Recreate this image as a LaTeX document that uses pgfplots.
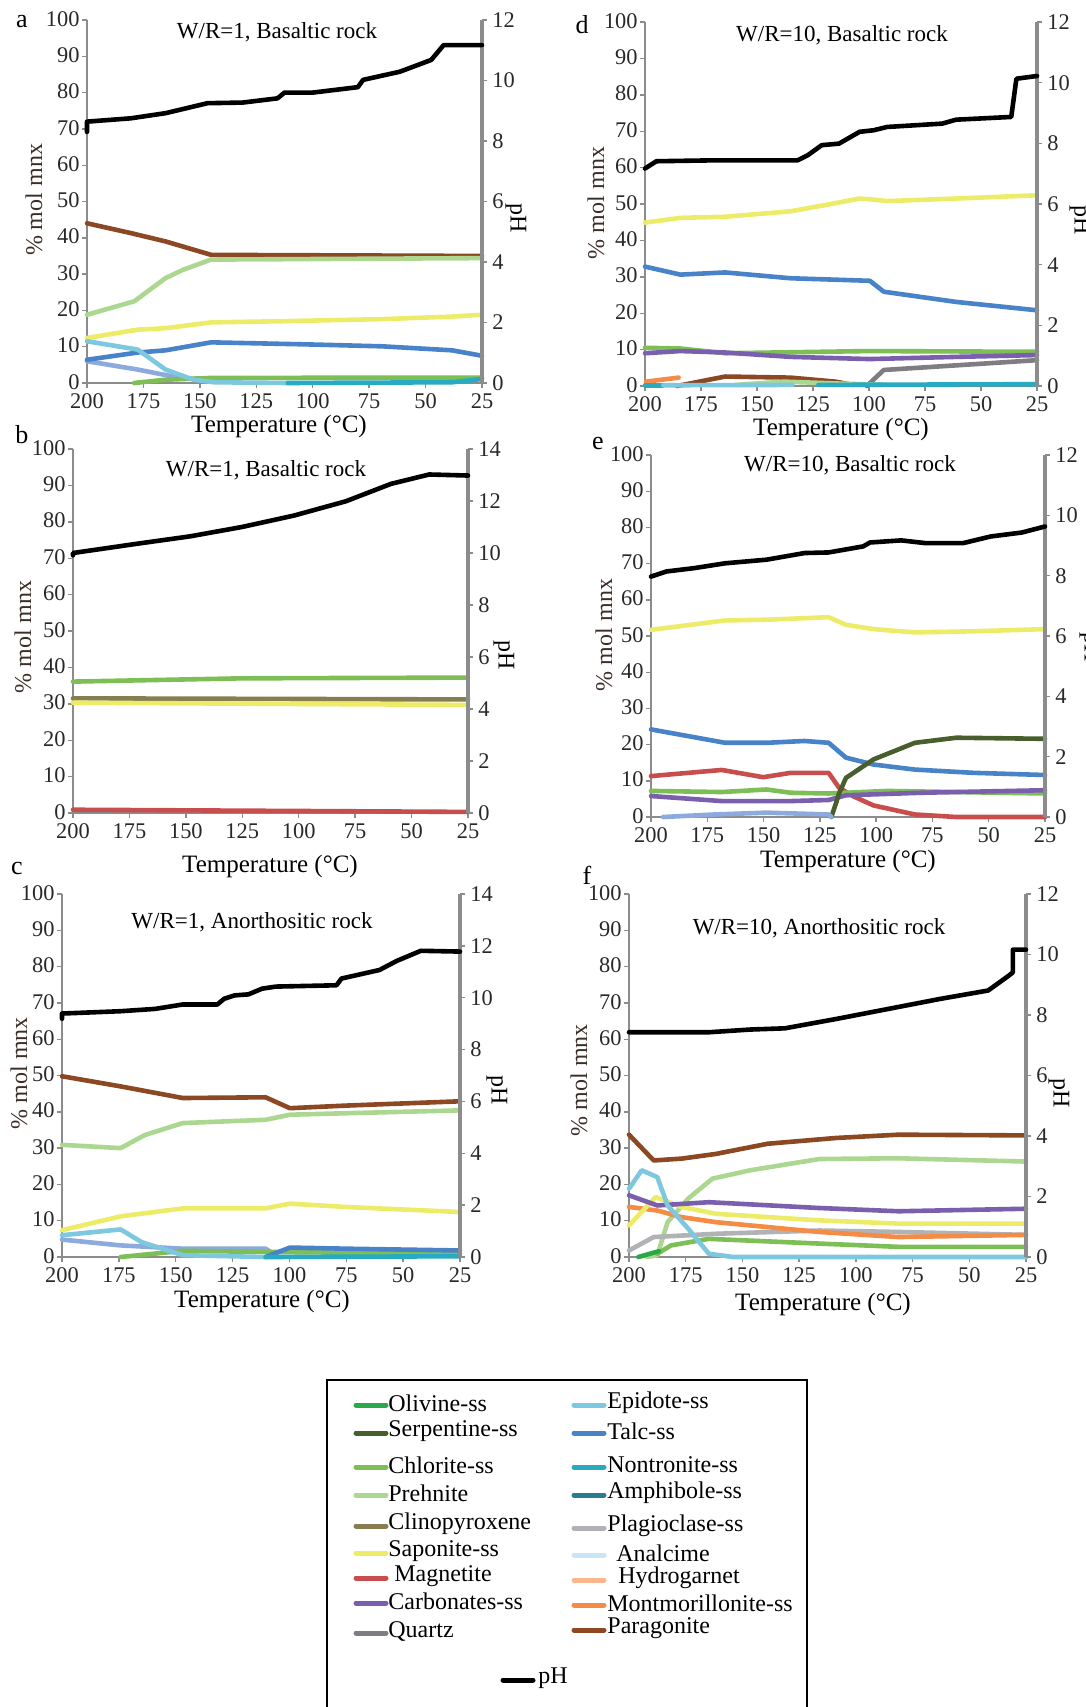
\documentclass[border=0pt]{standalone}
\usepackage{pgfplots}
\pgfplotsset{compat=1.18}
\usepackage{fontspec}
\setmainfont{Liberation Serif}
\usetikzlibrary{calc}

\definecolor{cOlivine}{RGB}{40,170,75}
\definecolor{cSerp}{RGB}{72,95,45}
\definecolor{cChlor}{RGB}{125,190,85}
\definecolor{cPreh}{RGB}{172,215,145}
\definecolor{cClino}{RGB}{135,125,80}
\definecolor{cSapo}{RGB}{236,236,105}
\definecolor{cMagn}{RGB}{200,78,78}
\definecolor{cCarb}{RGB}{122,95,175}
\definecolor{cQuartz}{RGB}{125,125,130}
\definecolor{cEpid}{RGB}{125,200,222}
\definecolor{cTalc}{RGB}{72,130,200}
\definecolor{cNont}{RGB}{40,170,195}
\definecolor{cAmph}{RGB}{40,125,140}
\definecolor{cPlag}{RGB}{176,178,182}
\definecolor{cAnal}{RGB}{200,230,245}
\definecolor{cHydro}{RGB}{250,182,140}
\definecolor{cMont}{RGB}{245,140,70}
\definecolor{cPara}{RGB}{140,72,35}
\definecolor{cPeri}{RGB}{140,170,222}
\definecolor{axgray}{RGB}{140,140,140}
\definecolor{tickc}{RGB}{40,40,40}
\definecolor{labc}{RGB}{60,45,40}

\pgfplotsset{
  ser/.style={line width=2.3pt, line join=round, line cap=round, no markers},
  leftax/.style={scale only axis, anchor=south west,
    xmin=25, xmax=200, x dir=reverse, ymin=0, ymax=100,
    axis x line*=bottom, axis y line*=left,
    xtick={25,50,...,200}, ytick={0,10,...,100},
    tick align=outside, major tick length=2.5pt, clip=false,
    x axis line style={draw=axgray, line width=1pt},
    y axis line style={draw=axgray, line width=0.8pt},
    tick style={draw=axgray, line width=0.7pt},
    tick label style={font=\fontsize{11.2}{11.2}\selectfont, text=tickc},
    xticklabel style={inner xsep=1pt, inner ysep=0.3pt, yshift=-2.2pt},
    yticklabel style={inner xsep=1pt, inner ysep=0.2pt, yshift=0.6pt},
    /pgf/number format/assume math mode=true},
  rightax/.style={scale only axis, anchor=south west,
    xmin=25, xmax=200, x dir=reverse, ymin=0,
    axis x line=none, axis y line*=right, xtick=\empty,
    tick align=outside, major tick length=2.5pt, clip=false,
    y axis line style={draw=axgray, line width=1.7pt},
    tick style={draw=axgray, line width=0.7pt},
    tick label style={font=\fontsize{11.2}{11.2}\selectfont, text=tickc},
    yticklabel style={inner xsep=2.5pt, inner ysep=0.2pt},
    /pgf/number format/assume math mode=true},
}

\newcommand{\ttl}[3]{\node[font=\fontsize{11.5}{11.5}\selectfont] at (#1,#2) {#3};}
\newcommand{\xlab}[2]{\node[font=\fontsize{12.5}{12.5}\selectfont] at (#1,#2) {Temperature (°C)};}
\newcommand{\ylab}[2]{\node[font=\fontsize{12}{12}\selectfont, text=labc, rotate=90] at (#1,#2) {\% mol mnx};}
\newcommand{\phlab}[2]{\node[font=\fontsize{12}{12}\selectfont, rotate=-90] at (#1,#2) {pH};}
\newcommand{\plet}[3]{\node[font=\fontsize{13}{13}\selectfont] at (#1,#2) {#3};}
\newcommand{\legent}[5]{\draw[line width=2.5pt, line cap=round, #4] (#1,#3) -- ++(15pt,0); \node[anchor=west, inner sep=0pt, font=\fontsize{12}{12}\selectfont] at ($(#2,#3)+(0,1pt)$) {#5};}

\begin{document}
\begin{tikzpicture}

% ---------------- Panel a ----------------
\begin{axis}[leftax, at={(43.5pt,-191.5pt)}, width=197.5pt, height=181.5pt]
\addplot[ser, cPara] coordinates {(200,44)(180.6,41.3)(165.2,39)(145,35.3)(25,35)};
\addplot[ser, cPreh] coordinates {(200,18.8)(179.1,22.5)(165.2,28.9)(157.4,31.2)(145,34)(25,34.4)};
\addplot[ser, cSapo] coordinates {(200,12.4)(177.5,14.7)(165.2,15.1)(145,16.7)(115.6,17)(69.1,17.6)(38.2,18.3)(25,18.8)};
\addplot[ser, cPeri] coordinates {(200,6)(177.5,3.7)(162,1.8)(145,0.5)(140,0.3)};
\addplot[ser, cTalc] coordinates {(200,6.4)(177.5,8.4)(165.2,9)(145,11.2)(100,10.6)(69.1,10.1)(38.2,9)(25,7.5)};
\addplot[ser, cChlor] coordinates {(179.1,0)(165.2,0.9)(145,1.4)(25,1.5)};
\addplot[ser, cEpid] coordinates {(200,11.5)(177.5,9.2)(165.2,3.7)(152.8,0.9)(143.5,0.2)(111,0)};
\addplot[ser, cNont] coordinates {(111,0)(38.2,0.2)(25,1.1)};
\end{axis}
\begin{axis}[rightax, at={(43.5pt,-191.5pt)}, width=197.5pt, height=181.5pt, ymax=12, ytick={0,2,...,12}]
\addplot[ser, black] coordinates {(200,8.3)(200,8.64)(180.6,8.75)(165.2,8.92)(146.6,9.25)(131.1,9.27)(115.6,9.41)(112.5,9.6)(100,9.6)(80,9.78)(77.7,10.02)(61.4,10.29)(47.5,10.68)(42,11.17)(25,11.17)};
\end{axis}

% ---------------- Panel d ----------------
\begin{axis}[leftax, at={(322.5pt,-193pt)}, width=196pt, height=182pt]
\addplot[ser, cSapo] coordinates {(200,44.9)(184.2,46.2)(164.2,46.5)(135,48)(119.6,49.7)(104.2,51.5)(98,51.2)(91.9,50.8)(61.1,51.5)(25,52.4)};
\addplot[ser, cTalc] coordinates {(200,32.8)(184.2,30.6)(164.2,31.2)(135,29.6)(99.6,28.9)(93.4,25.9)(61.1,23.1)(25,20.8)};
\addplot[ser, cChlor] coordinates {(200,10.5)(184.2,10.3)(164.2,9)(100,9.6)(25,9.4)};
\addplot[ser, cCarb] coordinates {(200,9)(184.2,9.6)(164.2,9.2)(135,8)(99.6,7.4)(61.1,8)(25,8.5)};
\addplot[ser, cQuartz] coordinates {(101,0)(93.4,4.4)(25,7.1)};
\addplot[ser, cMont] coordinates {(199.5,1.2)(185,2.3)};
\addplot[ser, cPara] coordinates {(185.7,0)(164.2,2.6)(135,2.3)(115,1.2)(107,0.3)};
\addplot[ser, cPreh] coordinates {(159.6,0.3)(138,1.2)(115,0.7)(91.9,0.3)};
\addplot[ser, cNont] coordinates {(200,0.2)(192,0.2)};
\addplot[ser, cNont] coordinates {(122.6,0.3)(25,0.5)};
\addplot[ser, cEpid] coordinates {(191.8,0.2)(134.2,0.3)};
\end{axis}
\begin{axis}[rightax, at={(322.5pt,-193pt)}, width=196pt, height=182pt, ymax=12, ytick={0,2,...,12}]
\addplot[ser, black] coordinates {(200,7.17)(194.9,7.41)(168.8,7.44)(131.9,7.44)(127.3,7.61)(121.1,7.94)(113.4,7.99)(104.2,8.38)(98,8.43)(91.9,8.54)(67.3,8.65)(61.1,8.78)(36.5,8.87)(34.2,10.13)(25,10.22)};
\end{axis}

% ---------------- Panel b ----------------
\begin{axis}[leftax, at={(36.5pt,-406.5pt)}, width=197.5pt, height=182pt]
\addplot[ser, cChlor] coordinates {(200,36.1)(125,37)(25,37.2)};
\addplot[ser, cClino] coordinates {(200,31.5)(25,31.2)};
\addplot[ser, cSapo] coordinates {(200,30.3)(25,29.7)};
\addplot[ser, cMagn] coordinates {(200,0.9)(25,0.3)};
\end{axis}
\begin{axis}[rightax, at={(36.5pt,-406.5pt)}, width=197.5pt, height=182pt, ymax=14, ytick={0,2,...,14}]
\addplot[ser, black] coordinates {(200,9.91)(200,10.0)(171.3,10.36)(148.2,10.64)(125.2,11.0)(102.1,11.44)(79.1,11.99)(59.1,12.66)(42.2,13.02)(25,12.98)};
\end{axis}

% ---------------- Panel e ----------------
\begin{axis}[leftax, at={(325.5pt,-408.5pt)}, width=197pt, height=181pt]
\addplot[ser, cSapo] coordinates {(200,51.7)(167.1,54.3)(148.7,54.5)(121.1,55.2)(113.4,53.1)(101.2,51.9)(82.8,51)(56.7,51.3)(25,51.9)};
\addplot[ser, cTalc] coordinates {(200,24.2)(167.1,20.5)(148.7,20.5)(131.8,21)(121.1,20.5)(113.4,16.4)(101.2,14.5)(82.8,13.1)(56.7,12.2)(25,11.6)};
\addplot[ser, cMagn] coordinates {(200,11.3)(168.6,13)(150.2,11)(137.9,12.2)(121.1,12.2)(116.5,8.1)(110.4,5.8)(101.2,3.2)(82.8,0.7)(64.4,0)(25,0)};
\addplot[ser, cChlor] coordinates {(200,7.2)(168.6,6.9)(148.7,7.6)(137.9,6.7)(121.1,6.5)(95,7.2)(25,6.5)};
\addplot[ser, cCarb] coordinates {(200,5.8)(168.6,4.4)(137.9,4.4)(121.1,4.7)(113.4,6)(79.7,6.7)(25,7.4)};
\addplot[ser, cSerp] coordinates {(119.9,0)(118,3.5)(116.5,6.5)(113.4,10.8)(101.2,15.9)(82.8,20.5)(64.4,21.9)(25,21.6)};
\addplot[ser, cPeri] coordinates {(194.6,0)(171.7,0.7)(148.7,1.2)(121.1,0.7)(119.9,0)};
\end{axis}
\begin{axis}[rightax, at={(325.5pt,-408.5pt)}, width=197pt, height=181pt, ymax=12, ytick={0,2,...,12}]
\addplot[ser, black] coordinates {(200,7.97)(193.1,8.14)(180.8,8.25)(167.1,8.41)(148.7,8.53)(131.8,8.75)(121.1,8.77)(105.8,8.97)(102.7,9.1)(88.9,9.17)(78.2,9.08)(61.3,9.08)(49.1,9.3)(35.3,9.43)(25,9.63)};
\end{axis}

% ---------------- Panel c ----------------
\begin{axis}[leftax, at={(31pt,-628.5pt)}, width=199pt, height=181.5pt]
\addplot[ser, cPara] coordinates {(200,49.8)(174.2,47)(146.9,43.8)(110.5,44)(99.8,41)(75.6,41.7)(25,42.9)};
\addplot[ser, cPreh] coordinates {(200,30.9)(174.2,30)(163.6,33.6)(146.9,36.9)(110.5,37.8)(99.8,39.2)(75.6,39.6)(25,40.4)};
\addplot[ser, cSapo] coordinates {(200,7.4)(174.2,11.2)(146.9,13.4)(110.5,13.4)(99.8,14.7)(75.6,13.8)(25,12.4)};
\addplot[ser, cPeri] coordinates {(200,4.8)(174.2,3.2)(146.9,2.3)(110.5,2.3)(106,0.5)};
\addplot[ser, cChlor] coordinates {(174.2,0)(146.9,1.7)(110.5,1.4)(25,0.9)};
\addplot[ser, cTalc] coordinates {(110.5,0)(99.8,2.6)(75.6,2.3)(25,1.8)};
\addplot[ser, cEpid] coordinates {(200,6)(174.2,7.6)(165,4.1)(146.9,0.5)(110.5,0)};
\addplot[ser, cNont] coordinates {(110.5,0)(25,0.2)};
\end{axis}
\begin{axis}[rightax, at={(31pt,-628.5pt)}, width=199pt, height=181.5pt, ymax=14, ytick={0,2,...,14}]
\addplot[ser, black] coordinates {(200,9.19)(200,9.39)(174.2,9.48)(159,9.57)(146.9,9.74)(131.7,9.74)(128.7,9.96)(124.1,10.09)(118,10.13)(112,10.35)(105.9,10.43)(79.3,10.48)(77.1,10.74)(60.4,11.07)(52.8,11.42)(42.2,11.81)(25,11.78)};
\end{axis}

% ---------------- Panel f ----------------
\begin{axis}[leftax, at={(314.5pt,-628.5pt)}, width=198.5pt, height=181.5pt]
\addplot[ser, cPara] coordinates {(200,33.7)(189.1,26.6)(176.9,27.1)(161.7,28.4)(138.9,31.2)(108.6,32.8)(81.2,33.7)(25,33.5)};
\addplot[ser, cPreh] coordinates {(192.1,0)(187.5,0.5)(183,9.6)(173.9,16.1)(163.2,21.6)(146.5,23.9)(116.1,27)(81.2,27.2)(25,26.3)};
\addplot[ser, cPlag] coordinates {(200,1.8)(189.1,5.5)(161.7,6.4)(116.1,7.3)(81.2,6.9)(25,6.1)};
\addplot[ser, cChlor] coordinates {(187.5,0.9)(181.5,3.2)(164.8,5)(116.1,3.7)(81.2,2.8)(25,2.8)};
\addplot[ser, cOlivine] coordinates {(195.9,0)(186.8,1.6)};
\addplot[ser, cMont] coordinates {(200,13.8)(187.5,12.8)(176.9,11)(161.7,9.6)(116.1,6.9)(81.2,5.5)(25,6.1)};
\addplot[ser, cSapo] coordinates {(200,8.7)(188.3,16.5)(176.9,13.8)(161.7,11.9)(116.1,10.1)(81.2,9.2)(25,9.2)};
\addplot[ser, cCarb] coordinates {(200,17)(187.5,14.2)(164.8,15.1)(116.1,13.5)(81.2,12.6)(25,13.3)};
\addplot[ser, cEpid] coordinates {(200,18.8)(194.4,23.9)(187.5,22)(183,14.2)(173.9,7.8)(164.8,0.9)(154.1,0)(25,0)};
\end{axis}
\begin{axis}[rightax, at={(314.5pt,-628.5pt)}, width=198.5pt, height=181.5pt, ymax=12, ytick={0,2,...,12}]
\addplot[ser, black] coordinates {(200,7.43)(164.8,7.43)(146.5,7.52)(131.3,7.56)(108.6,7.87)(85.8,8.2)(63,8.53)(41.7,8.81)(32.6,9.3)(30.8,9.41)(30.8,10.16)(25,10.16)};
\end{axis}

% ---------------- texts ----------------
\plet{11pt}{-11pt}{a}
\plet{291pt}{-12.5pt}{d}
\plet{11pt}{-217.5pt}{b}
\plet{299pt}{-221.5pt}{e}
\plet{8.5pt}{-434pt}{c}
\plet{293.5pt}{-437.5pt}{f}

\ttl{138.5pt}{-16pt}{W/R=1, Basaltic rock}
\ttl{421pt}{-17.5pt}{W/R=10, Basaltic rock}
\ttl{133pt}{-235pt}{W/R=1, Basaltic rock}
\ttl{425pt}{-232.5pt}{W/R=10, Basaltic rock}
\ttl{126pt}{-461pt}{W/R=1, Anorthositic rock}
\ttl{409.5pt}{-464pt}{W/R=10, Anorthositic rock}

\xlab{139.5pt}{-213pt}
\xlab{420.5pt}{-214.5pt}
\xlab{135pt}{-433pt}
\xlab{424pt}{-430.5pt}
\xlab{131pt}{-650.5pt}
\xlab{411.5pt}{-652pt}

\ylab{17pt}{-100pt}
\ylab{298pt}{-101.5pt}
\ylab{11.5pt}{-318.5pt}
\ylab{302pt}{-317.5pt}
\ylab{9.5pt}{-536.5pt}
\ylab{289.5pt}{-540pt}

\phlab{258pt}{-109pt}
\phlab{540pt}{-110pt}
\phlab{252pt}{-327.5pt}
\phlab{545pt}{-323.5pt}
\phlab{248.5pt}{-545pt}
\phlab{529.5pt}{-546.5pt}

% ---------------- legend ----------------
\draw[line width=0.6pt] (163.5pt,-690pt) rectangle (403.5pt,-880pt);
\legent{178pt}{194pt}{-702.5pt}{cOlivine}{Olivine-ss}
\legent{178pt}{194pt}{-716.5pt}{cSerp}{Serpentine-ss}
\legent{178pt}{194pt}{-733.5pt}{cChlor}{Chlorite-ss}
\legent{178pt}{194pt}{-747.5pt}{cPreh}{Prehnite}
\legent{178pt}{194pt}{-763pt}{cClino}{Clinopyroxene}
\legent{178pt}{194pt}{-776.5pt}{cSapo}{Saponite-ss}
\legent{178pt}{197pt}{-789pt}{cMagn}{Magnetite}
\legent{178pt}{194pt}{-801.5pt}{cCarb}{Carbonates-ss}
\legent{178pt}{194pt}{-816.5pt}{cQuartz}{Quartz}
\legent{287pt}{303.5pt}{-702.5pt}{cEpid}{Epidote-ss}
\legent{287pt}{303.5pt}{-716.5pt}{cTalc}{Talc-ss}
\legent{287pt}{303.5pt}{-733.5pt}{cNont}{Nontronite-ss}
\legent{287pt}{303.5pt}{-747.5pt}{cAmph}{Amphibole-ss}
\legent{287pt}{303.5pt}{-764pt}{cPlag}{Plagioclase-ss}
\legent{287pt}{308pt}{-777.5pt}{cAnal}{Analcime}
\legent{287pt}{309pt}{-790pt}{cHydro}{Hydrogarnet}
\legent{287pt}{303.5pt}{-802.5pt}{cMont}{Montmorillonite-ss}
\legent{287pt}{303.5pt}{-815pt}{cPara}{Paragonite}
\legent{251.5pt}{269pt}{-840pt}{black}{pH}

\pgfresetboundingbox
\useasboundingbox (0,0) rectangle (543pt,-853.5pt);
\end{tikzpicture}
\end{document}
